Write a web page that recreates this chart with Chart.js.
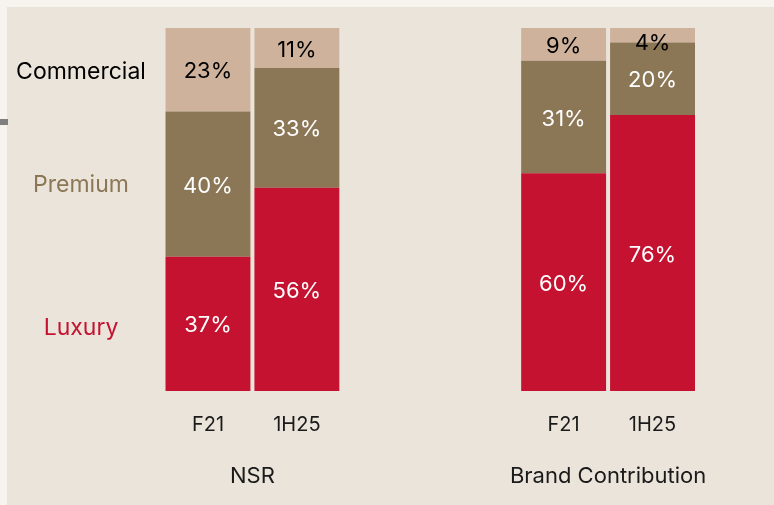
<!DOCTYPE html>
<html lang="en">
<head>
<meta charset="UTF-8">
<title>NSR and Brand Contribution mix</title>
<script src="https://cdn.jsdelivr.net/npm/chart.js@4.4.1/dist/chart.umd.min.js"></script>
<style>
  body { margin: 0; background: #f7f3ee; }
  #panel { position: absolute; left: 7px; top: 7px; right: 0; bottom: 0; background: #ebe4da; }
  #mark { position: absolute; left: 0; top: 119px; width: 8px; height: 6px; background: #7f7f7f; }
  #wrap { position: absolute; left: 0; top: 0; width: 774px; height: 505px; }
</style>
</head>
<body>
<div id="panel"></div>
<div id="mark"></div>
<div id="wrap"><canvas id="chart"></canvas></div>

<script>
// two groups of two bars, with two empty slots between them
const categories = ['F21', '1H25', '', '', 'F21', '1H25'];
const groupLabels = ['NSR', 'Brand Contribution'];
const seriesNames = ['Luxury', 'Premium', 'Commercial'];
const luxury = [37, 56, null, null, 60, 76];
const premium = [40, 33, null, null, 31, 20];
const commercial = [23, 11, null, null, 9, 4];

const colors = ['#c41230', '#8b7655', '#cfb29c'];
const nameColors = ['#c41230', '#8b7655', '#000000'];
const valueColors = ['#ffffff', '#ffffff', '#000000'];
const FONT = 'Inter, "Noto Sans", sans-serif';

// percent labels inside the segments, series names on the left, group titles below
const labelsPlugin = {
    id: 'labels',
    afterDatasetsDraw(chart) {
        const ctx = chart.ctx;
        ctx.save();
        ctx.textAlign = 'center';
        ctx.textBaseline = 'middle';
        ctx.font = '22px ' + FONT;
        chart.data.datasets.forEach((ds, i) => {
            const meta = chart.getDatasetMeta(i);
            meta.data.forEach((bar, j) => {
                const v = ds.data[j];
                if (v == null) return;
                const top = Math.min(bar.y, bar.base);
                let y = (bar.y + bar.base) / 2 + 2;
                if (y < top + 15) y = top + 15;
                ctx.fillStyle = valueColors[i];
                ctx.fillText(v + '%', bar.x, y);
            });
        });

        // series names next to the first bar
        const nameShift = [4, 1, 2];
        chart.data.datasets.forEach((ds, i) => {
            const bar = chart.getDatasetMeta(i).data[0];
            ctx.fillStyle = nameColors[i];
            ctx.font = '23px ' + FONT;
            ctx.fillText(seriesNames[i], 81, (bar.y + bar.base) / 2 + nameShift[i]);
        });

        // group titles under the ticks
        const x = chart.scales.x;
        ctx.fillStyle = '#1a1a1a';
        ctx.font = '22px ' + FONT;
        ctx.fillText(groupLabels[0], (x.getPixelForValue(0) + x.getPixelForValue(1)) / 2, 476);
        ctx.fillText(groupLabels[1], (x.getPixelForValue(4) + x.getPixelForValue(5)) / 2, 476);
        ctx.restore();
    }
};

const ctx = document.getElementById('chart').getContext('2d');
new Chart(ctx, {
    type: 'bar',
    data: {
        labels: categories,
        datasets: [
            { label: seriesNames[0], data: luxury, backgroundColor: colors[0] },
            { label: seriesNames[1], data: premium, backgroundColor: colors[1] },
            { label: seriesNames[2], data: commercial, backgroundColor: colors[2] }
        ]
    },
    options: {
        responsive: true,
        maintainAspectRatio: false,
        animation: false,
        layout: { padding: { left: 163.5, right: 77, top: 28, bottom: 0 } },
        datasets: { bar: { categoryPercentage: 1, barPercentage: 0.955 } },
        plugins: { legend: { display: false }, tooltip: { enabled: false } },
        scales: {
            x: {
                stacked: true,
                grid: { display: false, drawTicks: false },
                border: { display: false },
                ticks: { color: '#1a1a1a', font: { family: FONT, size: 20 }, padding: 22 },
                afterFit: s => { s.height = 114; }
            },
            y: {
                stacked: true,
                display: false,
                min: 0,
                max: 100
            }
        }
    },
    plugins: [labelsPlugin]
});
</script>
</body>
</html>
